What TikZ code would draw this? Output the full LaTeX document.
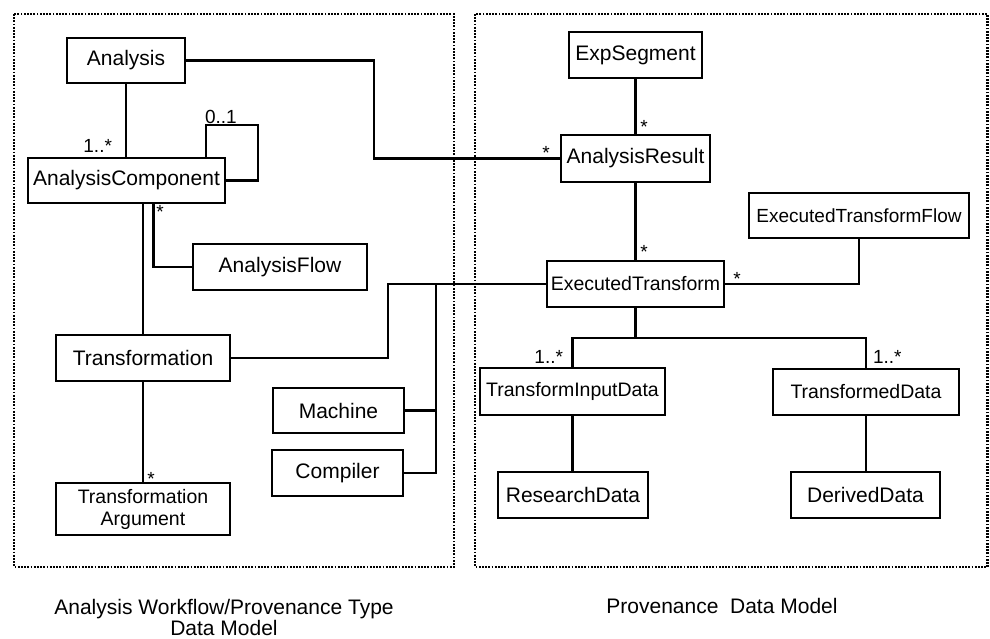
\documentclass[tikz,border=0pt]{standalone}
\usepackage{fontspec}
\setmainfont{Liberation Sans}
\usepackage{tikz}
\usetikzlibrary{positioning}

\begin{document}
\begin{tikzpicture}[x=1pt,y=-1pt,line width=2.1,
 cls/.style={draw,inner sep=0pt,align=center,font=\fontsize{21}{23}\selectfont},
 smallcls/.style={cls,font=\fontsize{19.5}{21}\selectfont},
 lbl/.style={inner sep=0pt,font=\fontsize{19}{19}\selectfont},
 frame/.style={line width=2.4,dash pattern=on 1.8pt off 1.4pt}]
\useasboundingbox (0,0) rectangle (990,638);
%frames
  \draw[frame] (14,14) rectangle (454,567);
  \draw[frame] (475,14) rectangle (987.5,567);
%left model
  \node[cls,minimum width=118,minimum height=45] (an) at (126,60.5) {Analysis};
  \node[cls,minimum width=197,minimum height=45] (ac) at (126.5,180.5) {AnalysisComponent};
  \node[cls,minimum width=174,minimum height=46] (af) at (280,267) {AnalysisFlow};
  \node[cls,minimum width=174,minimum height=46] (tr) at (143,358) {Transformation};
  \node[cls,minimum width=174,minimum height=52,font=\fontsize{19.5}{22}\selectfont] (ta) at (143,509) {Transformation\\Argument};
  \node[cls,minimum width=131,minimum height=45] (ma) at (338.5,410.5) {Machine};
  \node[cls,minimum width=131,minimum height=46] (co) at (337.5,473) {Compiler};
%right model
  \node[cls,minimum width=133,minimum height=46] (es) at (635.5,55) {ExpSegment};
  \node[cls,minimum width=149,minimum height=47] (ar) at (635.5,158.5) {AnalysisResult};
  \node[smallcls,minimum width=177,minimum height=46] (et) at (635.5,284) {ExecutedTransform};
  \node[smallcls,minimum width=220,minimum height=45,font=\fontsize{19}{21}\selectfont] (etf) at (859,215.5) {ExecutedTransformFlow};
  \node[smallcls,minimum width=185,minimum height=47] (tid) at (572.5,391.5) {TransformInputData};
  \node[smallcls,minimum width=186,minimum height=46] (td) at (866,392) {TransformedData};
  \node[cls,minimum width=150,minimum height=46] (rd) at (573,495) {ResearchData};
  \node[cls,minimum width=149,minimum height=46] (dd) at (865.5,495) {DerivedData};
%paths
  \draw (an.south) -- (an.south |- ac.north);
  \draw ([xshift=79.5]ac.north) -- ++(0,-32) -- ++(52,0) |- (ac.east);
  \draw (tr.north |- ac.south) -- (tr.north);
  \draw ([xshift=27]ac.south) |- (af.west);
  \draw (tr.south) -- (ta.north);
  \draw (an.east) -- ++(188,0) |- (ar.west);
  \draw (es.south) -- (ar.north);
  \draw (ar.south) -- (et.north);
  \draw (tr.east) -- ++(157,0) |- (et.west);
  \draw (ma.east) -- ++(31,0) |- (et.west);
  \draw (co.east) -- ++(32,0) |- (et.west);
  \draw (et.east) -| (etf.south);
  \draw (et.south) -- ++(0,30) -| (tid.north);
  \draw (et.south) -- ++(0,30) -| (td.north);
  \draw (tid.south) -- (tid.south |- rd.north);
  \draw (td.south) -- (td.south |- dd.north);
%multiplicities
  \node[lbl,anchor=east] at (113,146) {1..*};
  \node[lbl,anchor=south west] at (204,125) {0..1};
  \node[lbl] at (160,212) {*};
  \node[lbl] at (151,479) {*};
  \node[lbl] at (546,153) {*};
  \node[lbl] at (644,127) {*};
  \node[lbl] at (644,252) {*};
  \node[lbl] at (737,279) {*};
  \node[lbl,anchor=east] at (564,357) {1..*};
  \node[lbl,anchor=west] at (872,357) {1..*};
%captions
  \node[align=center,font=\fontsize{21}{21}\selectfont] (cap1) at (224,617) {Analysis Workflow/Provenance Type\\Data Model};
  \node[font=\fontsize{21}{21}\selectfont] (cap2) at (722,606) {Provenance\ \ Data Model};
\end{tikzpicture}
\end{document}
